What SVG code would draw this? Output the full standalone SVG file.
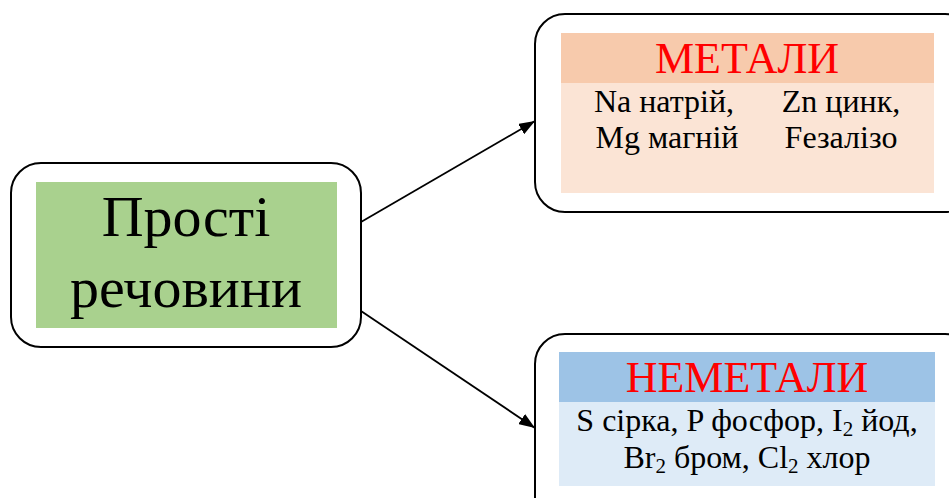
<svg xmlns="http://www.w3.org/2000/svg" width="949" height="498" viewBox="0 0 949 498">
<style>
.frame{fill:#fff;stroke:#000;stroke-width:2}
.t{font-family:"Liberation Serif","Times New Roman",serif;text-anchor:middle}
.big{font-size:58px;fill:#000}
.head{font-size:44px;fill:#ff0000}
.body{font-size:32px;fill:#000}
.sub{font-size:21px}
.conn{stroke:#000;stroke-width:1.8;fill:none}
</style>
<defs>
<marker id="arrow" viewBox="0 0 16 12" refX="16" refY="6" markerWidth="16" markerHeight="12" markerUnits="userSpaceOnUse" orient="auto">
<path d="M0,0 L16,6 L0,12 z" fill="#000"/>
</marker>
</defs>
<rect width="949" height="498" fill="#fff"/>
<g id="connectors">
<line class="conn" x1="361" y1="222" x2="535" y2="121" marker-end="url(#arrow)"/>
<line class="conn" x1="361" y1="311" x2="535" y2="428" marker-end="url(#arrow)"/>
</g>
<g id="node-prosti">
<rect class="frame" x="11" y="163" width="350" height="184" rx="30"/>
<rect x="36" y="182" width="301" height="146" fill="#a9d18e"/>
<text class="t big" x="186" y="236">Прості</text>
<text class="t big" x="186" y="307">речовини</text>
</g>
<g id="node-metaly">
<rect class="frame" x="535" y="14" width="440" height="198" rx="30"/>
<rect x="561" y="33" width="373" height="50" fill="#f7caac"/>
<rect x="561" y="83" width="373" height="110" fill="#fbe4d5"/>
<text class="t head" x="747" y="73">МЕТАЛИ</text>
<text class="t body" x="664" y="112">Na натрій,</text>
<text class="t body" x="841" y="112">Zn цинк,</text>
<text class="t body" x="667" y="148">Mg магній</text>
<text class="t body" x="841" y="148">Fезалізо</text>
</g>
<g id="node-nemetaly">
<rect class="frame" x="535" y="334" width="440" height="200" rx="30"/>
<rect x="559" y="352" width="376" height="50" fill="#9dc3e6"/>
<rect x="559" y="402" width="376" height="84" fill="#deebf7"/>
<text class="t head" x="747" y="392">НЕМЕТАЛИ</text>
<text class="t body" x="747" y="431">S сірка, P фосфор, I<tspan class="sub" dy="5">2</tspan><tspan dy="-5"> йод,</tspan></text>
<text class="t body" x="747" y="468">Br<tspan class="sub" dy="5">2</tspan><tspan dy="-5"> бром, Cl</tspan><tspan class="sub" dy="5">2</tspan><tspan dy="-5"> хлор</tspan></text>
</g>
</svg>
